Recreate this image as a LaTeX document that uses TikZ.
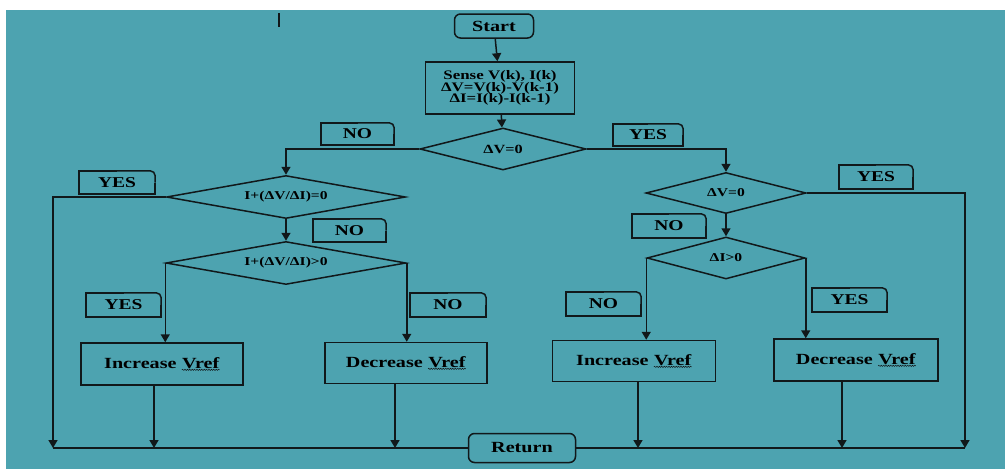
\documentclass[tikz,border=0pt]{standalone}
\usepackage{fontspec}
\setmainfont{Liberation Serif}[FakeStretch=1.3]
\usetikzlibrary{shapes.geometric,arrows.meta,decorations.pathmorphing}
\definecolor{bgteal}{RGB}{77,163,176}
\definecolor{ink}{RGB}{17,24,26}

% word with a wavy underline
\newcommand{\wavyword}[1]{\tikz[baseline=(w.base)]{%
  \node[draw=none, inner sep=0pt, minimum size=0pt, sharp corners] (w) {#1};
  \draw[ink, line width=0.5pt, sharp corners, decorate,
    decoration={snake, amplitude=0.6pt, segment length=2.4pt}]
    ([yshift=-1.6pt]w.base west) -- ([yshift=-1.6pt]w.base east);}}

\tikzset{
  conn/.style={draw=ink, line width=1.5pt},
  arr/.style={conn, -{Triangle[length=8pt,width=9pt]}},
  blk/.style={draw=ink, line width=1.5pt, rectangle, text=black,
    font=\bfseries\fontsize{15.5}{15.5}\selectfont},
  term/.style={blk, rounded corners=6pt},
  dec/.style={draw=ink, line width=1.5pt, diamond, aspect=5, inner sep=0pt,
    font=\bfseries\fontsize{12}{12}\selectfont},
  lbl/.style={inner sep=0pt, font=\bfseries\fontsize{15}{15}\selectfont},
}

\begin{document}
\begin{tikzpicture}[x=1pt,y=-1pt]
  \useasboundingbox[fill=white] (0,0) rectangle (1005,469);
  \fill[bgteal] (6,10) rectangle (1005,469);
  \draw[conn] (279,13) -- (279,27);

  % top of the chart
  \node[term, minimum width=79pt, minimum height=24pt] (s) at (494,26) {Start};
  \node[blk, minimum width=149pt, minimum height=52pt, align=center,
    font=\bfseries\fontsize{13}{11.8}\selectfont] (sn) at (500,88)
    {Sense V(k), I(k)\\ΔV=V(k)-V(k-1)\\ΔI=I(k)-I(k-1)};
  \node[dec, minimum width=166pt, minimum height=42pt,
    font=\bfseries\fontsize{12.5}{12.5}\selectfont] (d1) at (503,149) {ΔV=0};

  % left branch
  \node[dec, minimum width=239pt, minimum height=43pt] (d2) at (286,197) {I+(ΔV/ΔI)=0};
  \node[dec, minimum width=240pt, minimum height=43pt] (d3) at (286,263) {I+(ΔV/ΔI)>0};
  \node[blk, minimum width=162pt, minimum height=42pt] (i1) at (162,364) {Increase \wavyword{Vref}};
  \node[blk, minimum width=162pt, minimum height=41pt] (e1) at (406,363) {Decrease \wavyword{Vref}};

  % right branch
  \node[dec, minimum width=160pt, minimum height=41pt] (d4) at (726,193) {ΔV=0};
  \node[dec, minimum width=158pt, minimum height=42pt] (d5) at (726,258) {ΔI>0};
  \node[blk, minimum width=163pt, minimum height=41pt] (i2) at (634,361) {Increase \wavyword{Vref}};
  \node[blk, minimum width=164pt, minimum height=42pt] (e2) at (856,360) {Decrease \wavyword{Vref}};

  \node[term, minimum width=107pt, minimum height=29pt] (r) at (522,448) {Return};

  % yes / no tags
  \node[lbl, minimum width=73pt, minimum height=22pt] (n1) at (357.5,134) {NO};
  \node[lbl, minimum width=70pt, minimum height=22pt] (y1) at (648,135) {YES};
  \node[lbl, minimum width=76pt, minimum height=23pt] (y2) at (117,182.5) {YES};
  \node[lbl, minimum width=73pt, minimum height=23pt] (n2) at (349.5,230.5) {NO};
  \node[lbl, minimum width=75pt, minimum height=24pt] (y3) at (123.5,305) {YES};
  \node[lbl, minimum width=76pt, minimum height=24pt] (n3) at (448,305) {NO};
  \node[lbl, minimum width=74pt, minimum height=24pt] (y4) at (876,177) {YES};
  \node[lbl, minimum width=74pt, minimum height=24pt] (n4) at (669,226) {NO};
  \node[lbl, minimum width=75pt, minimum height=24pt] (n5) at (603.5,304) {NO};
  \node[lbl, minimum width=75pt, minimum height=24pt] (y5) at (849.5,300) {YES};
  \foreach \t in {n1,y1,y2,n2,y3,n3,y4,n4,n5,y5} {
    \draw[conn] (\t.north) -| (\t.south west) -| (\t.east);
    \draw[conn, rounded corners=5pt] (\t.north) -| (\t.east);
  }

  % points on the return line
  \coordinate (b1) at (53,448);
  \coordinate (b2) at (154,448);
  \coordinate (b3) at (395,448);
  \coordinate (b4) at (638,448);
  \coordinate (b5) at (842,448);
  \coordinate (b6) at (965,448);

  \draw[arr] (s) -- (sn);
  \draw[arr] (sn) -- (d1);
  \draw[arr] (d1.west) -| (d2.north);
  \draw[arr] (d1.east) -| (d4.north);
  \draw[arr] (d2.west) -| (b1);
  \draw[arr] (d2) -- (d3);
  \draw[arr] (d3.west) -- (d3.west |- i1.north);
  \draw[arr] (d3.east) -- (d3.east |- e1.north);
  \draw[arr] (d4.east) -| (b6);
  \draw[arr] (d4) -- (d5);
  \draw[arr] (d5.west) -- (d5.west |- i2.north);
  \draw[arr] (d5.east) -- (d5.east |- e2.north);
  \draw[arr] (b2 |- i1.south) -- (b2);
  \draw[arr] (b3 |- e1.south) -- (b3);
  \draw[arr] (b4 |- i2.south) -- (b4);
  \draw[arr] (b5 |- e2.south) -- (b5);
  \draw[conn] (b1) -- (r.west);
  \draw[conn] (r.east) -- (b6);
\end{tikzpicture}
\end{document}
